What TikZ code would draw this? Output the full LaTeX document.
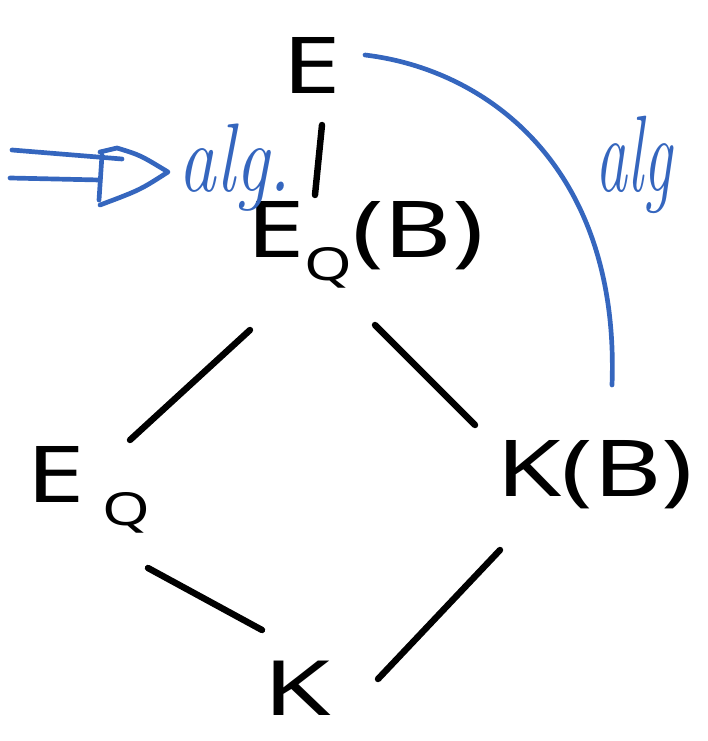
\documentclass[tikz,border=0pt]{standalone}
\usepackage{fontspec}
\setmainfont{Noto Sans}
\newfontfamily\algfont{Latin Modern Roman}
\definecolor{penblue}{HTML}{3566BE}
\tikzset{
  lbl/.style={inner sep=0pt, font=\fontsize{62}{70}\selectfont},
  alglbl/.style={inner sep=0pt, text=penblue, font=\algfont\itshape\fontsize{64}{70}\selectfont},
  ink/.style={line width=5.5pt, line cap=round, black},
  blueink/.style={line width=4pt, line cap=round, line join=round, penblue},
}
\newcommand{\subQ}{\raisebox{-0.3em}{\fontsize{36}{40}\selectfont Q}}
\newcommand{\wide}[1]{\scalebox{1.45}[1.08]{#1}}
\begin{document}
\begin{tikzpicture}[x=0.03cm,y=-0.03cm]
\useasboundingbox (0,0) rectangle (707,741);
% nodes
\node[lbl] (E) at (312,65) {\wide{E}};
\node[lbl] (EQB) at (365,245) {\wide{E\subQ(B)}};
\node[lbl] (EQ) at (88,490) {\wide{E\,\subQ}};
\node[lbl] (KB) at (595,475) {\wide{K(B)}};
\node[lbl] (K) at (297,688) {\scalebox{1.5}[1.05]{K}};
\node[alglbl] (algL) at (235,168) {\scalebox{1}[1.3]{alg.}};
\node[alglbl] (algR) at (634,165) {\scalebox{0.85}[1.45]{alg}};
% black connectors
\draw[ink] ([shift={(10,60)}]E.center) -- ([shift={(-50,-50)}]EQB.center);
\draw[ink] ([shift={(-115,85)}]EQB.center) -- ([shift={(42,-50)}]EQ.center);
\draw[ink] ([shift={(10,80)}]EQB.center) -- ([shift={(-120,-50)}]KB.center);
\draw[ink] ([shift={(60,78)}]EQ.center) -- ([shift={(-35,-58)}]K.center);
\draw[ink] ([shift={(-95,75)}]KB.center) -- ([shift={(81,-9)}]K.center);
% blue arc
\draw[blueink] ([shift={(53,-10)}]E.center) .. controls (490,70) and (620,170) .. ([shift={(17,-90)}]KB.center);
% blue double arrow
\coordinate (tip) at ([shift={(-67,4)}]algL.center);
\draw[blueink] (12,150) -- (122,159);
\draw[blueink] (10,178) -- (100,180);
\draw[blueink] (100,152) -- (117,148) .. controls (140,155) .. (tip) .. controls (140,190) .. (100,205);
\draw[blueink] (102,155) -- (99,200);
\end{tikzpicture}
\end{document}
